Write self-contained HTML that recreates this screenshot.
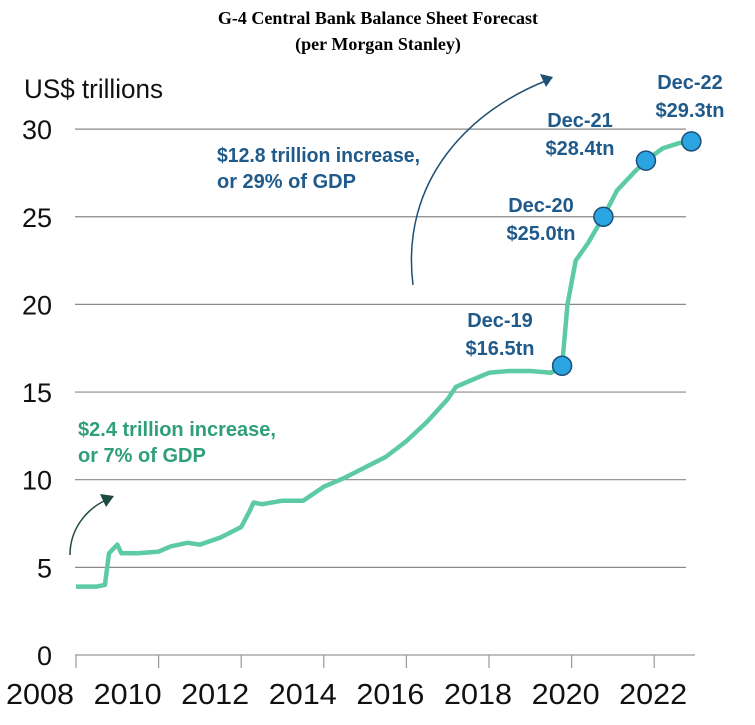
<!DOCTYPE html>
<html><head><meta charset="utf-8"><style>
body{margin:0;background:#fff;}
svg text{font-family:"Liberation Sans Narrow","Liberation Sans",sans-serif;}
</style></head><body>
<svg width="755" height="720" viewBox="0 0 755 720" id="chart">
<text x="378" y="24" text-anchor="middle" style="font-family:'Liberation Serif',serif;font-weight:bold;font-size:18px">G-4 Central Bank Balance Sheet Forecast</text>
<text x="378" y="50" text-anchor="middle" style="font-family:'Liberation Serif',serif;font-weight:bold;font-size:18px">(per Morgan Stanley)</text>
<text x="24" y="98" font-size="27" fill="#111" textLength="139" lengthAdjust="spacingAndGlyphs">US$ trillions</text>
<g id="grid"></g><g id="xaxis"></g>
<path d="M413,285 C400,180 470,110 548,80" fill="none" stroke="#1f4f73" stroke-width="1.5"/>
<polygon points="553,77 540,74 546,87" fill="#1f4f73"/>
<path d="M70,555 C70,530 85,510 106,500" fill="none" stroke="#1f4a3f" stroke-width="1.5"/>
<polygon points="114,496 100,494 106,507" fill="#1f4a3f"/>
<g font-weight="bold" font-size="20" fill="#1f5a8a">
<text x="217" y="162" textLength="203" lengthAdjust="spacingAndGlyphs">$12.8 trillion increase,</text>
<text x="217" y="188">or 29% of GDP</text>
</g>
<g font-weight="bold" font-size="20" fill="#2f9f7b">
<text x="78" y="436" textLength="198" lengthAdjust="spacingAndGlyphs">$2.4 trillion increase,</text>
<text x="78" y="462">or 7% of GDP</text>
</g>
<path id="line" fill="none" stroke="#5ccaa5" stroke-width="4.5" stroke-linejoin="round"/>
<g id="pts"></g>
<g font-weight="bold" font-size="20" fill="#1f5a8a" text-anchor="middle">
<text x="500" y="327">Dec-19</text>
<text x="500" y="355">$16.5tn</text>
<text x="541" y="212">Dec-20</text>
<text x="541" y="240">$25.0tn</text>
<text x="580" y="127">Dec-21</text>
<text x="580" y="155">$28.4tn</text>
<text x="690" y="89">Dec-22</text>
<text x="690" y="117">$29.3tn</text>
</g>
</svg>
<script>
const years=[2008.0,2008.5,2008.7,2008.8,2009.0,2009.1,2009.5,2010.0,2010.3,2010.7,2011.0,2011.5,2012.0,2012.2,2012.3,2012.5,2013.0,2013.5,2014.0,2014.5,2015.0,2015.5,2016.0,2016.5,2017.0,2017.2,2017.5,2018.0,2018.5,2019.0,2019.5,2019.77,2019.9,2020.1,2020.4,2020.77,2021.1,2021.5,2021.8,2022.2,2022.6,2022.9];
const values=[3.9,3.9,4.0,5.8,6.3,5.8,5.8,5.9,6.2,6.4,6.3,6.7,7.3,8.2,8.7,8.6,8.8,8.8,9.6,10.1,10.7,11.3,12.2,13.3,14.6,15.3,15.6,16.1,16.2,16.2,16.1,16.5,20.0,22.5,23.5,25.0,26.5,27.5,28.2,28.9,29.2,29.3];
const markerYears=[2019.77,2020.77,2021.8,2022.9];
const markerValues=[16.5,25.0,28.2,29.3];
const yTicks=[0,5,10,15,20,25,30];
const xTicks=[2008,2010,2012,2014,2016,2018,2020,2022];
const NS="http://www.w3.org/2000/svg";
const X=y=>76+(y-2008)*41.3;
const Y=v=>655-v*17.53;
const grid=document.getElementById('grid');
yTicks.forEach(t=>{
 const l=document.createElementNS(NS,'line');
 l.setAttribute('x1',75);l.setAttribute('x2',t===0?695:686);
 l.setAttribute('y1',Y(t));l.setAttribute('y2',Y(t));
 l.setAttribute('stroke',t===0?'#999':'#8a8a8a');l.setAttribute('stroke-width',1.2);
 
 
 grid.appendChild(l);
 const tx=document.createElementNS(NS,'text');
 tx.setAttribute('x',52);tx.setAttribute('y',Y(t)+10);
 tx.setAttribute('text-anchor','end');tx.setAttribute('font-size','27');tx.setAttribute('fill','#111');
 tx.textContent=t;
 
 
 grid.appendChild(tx);
});
const xa=document.getElementById('xaxis');
xTicks.forEach((t,i)=>{
 const l=document.createElementNS(NS,'line');
 l.setAttribute('x1',X(t));l.setAttribute('x2',X(t));
 l.setAttribute('y1',655);l.setAttribute('y2',668);
 l.setAttribute('stroke','#999');l.setAttribute('stroke-width',1.2);
 
 
 xa.appendChild(l);
 const tx=document.createElementNS(NS,'text');
 tx.setAttribute('x',40+i*87.6-34);tx.setAttribute('y',704);
 tx.setAttribute('font-size','29');tx.setAttribute('fill','#111');
 tx.setAttribute('textLength','68');tx.setAttribute('lengthAdjust','spacingAndGlyphs');
 tx.textContent=t;
 
 
 xa.appendChild(tx);
});
document.getElementById('line').setAttribute('d',years.map((y,i)=>(i?'L':'M')+X(y).toFixed(1)+','+Y(values[i]).toFixed(1)).join(' '));
const pts=document.getElementById('pts');
markerYears.forEach((y,i)=>{
 const c=document.createElementNS(NS,'circle');
 c.setAttribute('cx',X(y));c.setAttribute('cy',Y(markerValues[i]));c.setAttribute('r',9.5);
 c.setAttribute('fill','#2ba4e2');c.setAttribute('stroke','#1c4f7a');c.setAttribute('stroke-width',1.5);
 
 
 pts.appendChild(c);
});
</script>
</body></html>
